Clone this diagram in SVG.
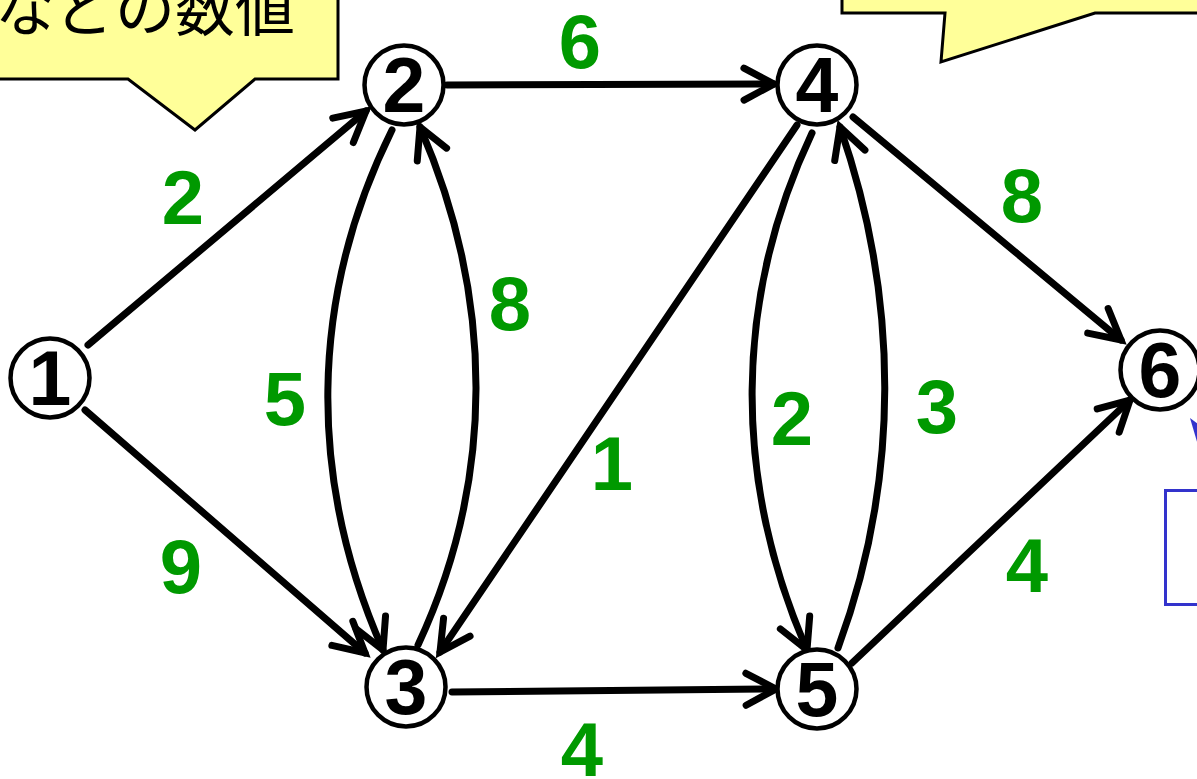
<svg xmlns="http://www.w3.org/2000/svg" width="1197" height="779" viewBox="0 0 1197 779">
  <style>
    .edge { fill: none; stroke: #000; stroke-width: 7; stroke-linecap: round; marker-end: url(#arrow); }
    .node circle { fill: #fff; stroke: #000; stroke-width: 4.5; }
    .node text { font-family: "Liberation Sans", Arial, sans-serif; font-weight: bold; font-size: 77px; text-anchor: middle; fill: #000; }
    .w { font-family: "Liberation Sans", Arial, sans-serif; font-weight: bold; font-size: 76px; text-anchor: middle; fill: #009900; }
    .callout { fill: #FFFF99; stroke: #000; stroke-width: 3; stroke-linejoin: miter; }
    .ctext { font-family: "Noto Sans CJK JP", "Noto Sans CJK SC", sans-serif; font-size: 60px; fill: #000; }
  </style>
  <defs>
    <marker id="arrow" markerUnits="userSpaceOnUse" markerWidth="60" markerHeight="60" viewBox="-40 -30 50 60" refX="0" refY="0" orient="auto" overflow="visible">
      <path d="M-30,-16 L0,0 L-30,16" fill="none" stroke="#000" stroke-width="7" stroke-linecap="round" stroke-linejoin="miter"/>
    </marker>
  </defs>
  <rect width="1197" height="779" fill="#fff"/>

  <g id="callout-left">
    <path class="callout" d="M-5,-5 L338,-5 L338,79 L255,79 L195,130 L128,79 L-5,79 Z"/>
    <text class="ctext" x="-5" y="31">などの数値</text>
  </g>
  <g id="callout-right">
    <path class="callout" d="M842,-5 L842,13 L945,13 L941,62 L1095,13 L1205,13 L1205,-5 Z"/>
  </g>
  <g id="callout-blue">
    <polygon points="1190,418 1198,424 1198,445" fill="#3333CC"/>
    <rect x="1165.5" y="490.5" width="60" height="114" fill="#fff" stroke="#3333CC" stroke-width="3"/>
  </g>

  <g id="connectors">
    <path class="edge" d="M88,345 L366,111"/>
    <path class="edge" d="M85,410 L365,653"/>
    <path class="edge" d="M447,85 L774,84"/>
    <path class="edge" d="M392,130 C308,300 308,480 383,650"/>
    <path class="edge" d="M418,645 C495,480 495,300 420,127"/>
    <path class="edge" d="M797,125 L440,652"/>
    <path class="edge" d="M812,133 C733,300 733,480 807,650"/>
    <path class="edge" d="M838,648 C900,480 900,300 840,127"/>
    <path class="edge" d="M853,117 L1121,340"/>
    <path class="edge" d="M452,692 L776,689"/>
    <path class="edge" d="M852,663 L1130,400"/>
  </g>

  <g id="weights">
    <text class="w" x="183" y="224">2</text>
    <text class="w" x="580" y="68">6</text>
    <text class="w" x="1022" y="222">8</text>
    <text class="w" x="510" y="330">8</text>
    <text class="w" x="285" y="425">5</text>
    <text class="w" x="612" y="490">1</text>
    <text class="w" x="792" y="445">2</text>
    <text class="w" x="937" y="433">3</text>
    <text class="w" x="181" y="593">9</text>
    <text class="w" x="1027" y="592">4</text>
    <text class="w" x="582" y="776">4</text>
  </g>

  <g id="node1" class="node"><circle cx="50" cy="378" r="39.5"/><text x="50" y="405">1</text></g>
  <g id="node2" class="node"><circle cx="404" cy="85" r="39.5"/><text x="404" y="112">2</text></g>
  <g id="node3" class="node"><circle cx="406" cy="687" r="39.5"/><text x="406" y="714">3</text></g>
  <g id="node4" class="node"><circle cx="817" cy="85" r="39.5"/><text x="817" y="112">4</text></g>
  <g id="node5" class="node"><circle cx="817" cy="689" r="39.5"/><text x="817" y="716">5</text></g>
  <g id="node6" class="node"><circle cx="1160" cy="370" r="39.5"/><text x="1160" y="397">6</text></g>
</svg>
